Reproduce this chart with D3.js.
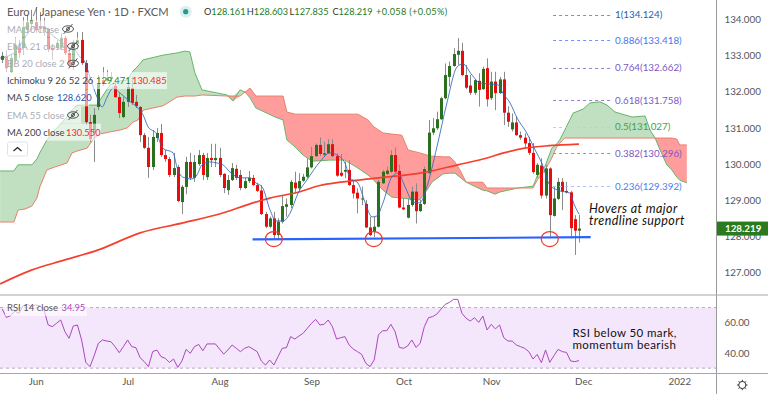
<!DOCTYPE html>
<html lang="en">

<head>
    <meta charset="UTF-8">
    <title>Euro / Japanese Yen</title>
    <style>
        body { margin: 0; background: #fff; }
        svg { display: block; }
        text { font-family: Lato, sans-serif; }
    </style>
</head>

<body>
    <svg width="768" height="394" id="svg"></svg>
    <script src="https://d3js.org/d3.v7.min.js"></script>
    <script>
        // daily bars
        const opens = [132.88,132.99,132.54,132.88,133.21,133.21,133.70,133.87,133.92,133.81,133.79,133.73,133.21,133.21,133.24,133.48,133.07,132.88,133.32,133.43,
            132.79,131.16,130.86,131.58,132.32,132.30,132.35,132.16,131.85,131.30,131.72,132.10,131.72,131.58,130.80,130.45,129.92,130.72,130.86,130.25,
            130.14,129.70,129.92,128.95,129.37,130.06,129.62,130.00,130.25,129.64,130.17,130.11,130.17,129.73,129.28,129.56,129.87,129.70,129.34,129.53,
            129.62,129.42,129.27,128.62,128.27,128.50,128.04,128.41,128.82,128.87,129.49,129.33,129.54,129.65,129.91,130.22,130.53,130.26,130.30,130.55,
            130.22,129.76,129.79,129.84,129.42,129.21,129.03,128.90,128.25,128.13,128.27,129.47,129.73,129.79,130.25,129.81,128.80,128.52,128.87,129.24,
            128.70,128.90,129.75,130.87,130.99,131.24,131.82,132.41,132.71,133.02,133.13,132.46,132.17,131.97,132.30,132.07,132.65,131.82,132.28,131.96,
            132.34,131.42,130.96,131.15,130.80,130.73,130.58,130.31,129.70,129.96,129.13,129.88,128.57,129.04,129.51,129.26,129.22,128.48,128.161]
        const highs = [133.10,133.15,133.01,133.51,133.43,134.06,134.12,134.26,134.34,134.20,134.04,133.76,133.32,133.43,133.62,133.54,133.15,133.43,133.65,133.65,
            132.88,131.36,131.55,132.46,132.68,132.60,132.54,132.32,131.96,131.85,132.32,132.41,131.91,131.60,130.86,130.75,130.94,131.00,131.11,130.39,
            130.20,130.31,129.98,129.42,130.20,130.31,130.25,130.39,130.31,130.31,130.56,130.56,130.45,129.75,129.70,130.03,129.98,129.84,129.62,129.81,
            129.70,129.48,129.42,128.68,128.55,128.68,128.50,129.15,129.05,129.56,129.79,129.75,129.73,130.16,130.48,130.57,130.74,130.62,130.69,130.69,
            130.30,130.28,130.07,130.11,129.56,129.33,129.38,129.01,128.55,128.55,129.56,129.84,129.93,130.39,130.46,129.98,129.05,129.05,129.38,129.47,
            129.01,129.93,131.22,131.27,131.45,131.86,132.78,132.83,133.20,133.48,133.35,132.74,132.46,132.34,132.51,132.69,132.92,132.55,132.55,132.41,
            132.55,131.60,131.40,131.31,130.90,130.85,130.75,130.58,130.03,130.16,129.98,129.91,129.38,129.62,129.61,129.51,129.26,128.59,128.603]
        const lows = [132.79,132.54,132.52,132.79,132.93,133.01,133.62,133.70,133.62,133.65,133.54,133.10,132.88,133.15,133.15,133.01,132.65,132.60,133.15,132.74,
            131.08,130.61,130.06,131.49,132.16,132.27,132.27,131.83,131.27,131.27,131.58,131.63,131.55,130.61,130.42,129.62,129.84,130.61,130.20,130.06,
            129.64,129.64,128.95,128.62,129.17,129.56,129.51,129.95,129.56,129.56,129.92,129.92,129.64,129.20,129.15,129.53,129.56,129.28,129.31,129.48,
            129.40,129.23,128.59,128.23,128.23,127.95,127.95,128.36,128.55,128.78,129.19,129.28,129.51,129.61,129.88,130.20,130.22,130.20,130.28,130.19,
            129.65,129.65,129.61,129.40,129.05,128.64,128.87,128.23,128.01,127.98,128.25,129.45,129.70,129.75,129.75,128.78,128.73,128.50,128.82,128.36,
            128.68,128.87,129.73,130.80,130.94,131.22,131.79,132.14,132.69,132.74,132.43,132.07,131.91,131.91,131.59,132.05,131.59,131.77,131.49,131.94,
            131.08,131.03,130.90,130.78,130.67,130.44,130.25,129.73,129.62,129.05,129.05,127.98,128.55,129.01,128.73,129.19,127.95,127.49,127.835]
        const closes = [132.99,132.65,132.93,133.29,133.07,133.79,133.92,133.98,133.70,133.76,133.73,133.18,133.15,133.35,133.48,133.07,132.74,133.35,133.43,132.79,
            131.16,130.69,131.36,132.24,132.24,132.38,132.41,131.85,131.41,131.72,132.13,131.69,131.60,130.80,130.45,129.92,130.75,130.86,130.25,130.14,
            129.70,129.89,128.98,129.37,130.06,129.62,130.06,130.25,129.70,130.17,130.11,130.17,129.70,129.34,129.56,129.89,129.62,129.34,129.53,129.62,
            129.42,129.26,128.62,128.27,128.50,128.04,128.41,128.84,128.89,129.51,129.33,129.53,129.65,129.91,130.22,130.53,130.28,130.30,130.55,130.22,
            129.68,129.68,129.84,129.42,129.19,129.05,129.05,128.25,128.04,128.27,129.51,129.79,129.82,130.25,129.79,128.80,128.75,128.87,129.24,128.70,
            128.90,129.86,130.87,130.99,131.24,131.82,132.46,132.71,133.04,133.13,132.46,132.11,131.97,132.32,132.05,132.63,131.79,132.28,131.96,132.34,
            131.42,131.17,131.15,130.80,130.73,130.57,130.31,129.78,129.98,129.13,129.88,128.59,129.05,129.51,129.24,129.22,128.23,128.16,128.219]

        // ichimoku spans, sampled where the edges bend
        const cloudBars = [-0.5,2.8,3.8,5.5,7.1,8.3,9,10.7,12.6,15.5,16.7,17.9,20.3,21.7,22.7,23.4,25.8,28.2,29.9,31.3,32.5,33.7,38.5,41.8,43.7,44.9,46.1,47.8,53.8,55.2,56.9,58.1,59.3,60.7,65.3,67.2,68.1,70.1,72,74.1,78.4,82,85.1,87.5,88.9,91.1,93.2,95.6,97.1,99.9,101.6,102.8,105.5,107.1,108.3,109.5,111,115,116,117.9,119.1,123.4,127,128,129.9,131.5,132.5,133.4,134.6,136.6,139,140.6,143,144.7,146.6,150.7,153.8,155,156.2,157.4,159,160.2,161.4,162.1,163.8]
        const spanA = [129.81,129.81,129.98,129.98,129.98,130.14,130.31,130.67,130.94,131.30,131.49,131.63,131.63,131.63,131.63,131.77,132.19,132.30,132.32,132.57,132.71,132.88,133.01,133.07,133.12,133.10,132.52,132.05,131.91,131.74,132.05,131.99,131.83,131.55,131.30,131.22,130.67,130.47,130.25,130.08,130.11,130.11,129.89,129.70,129.56,129.28,129.09,129.06,129.04,129.01,129.28,129.50,129.73,129.75,129.75,129.64,129.50,129.28,129.26,129.17,129.23,129.34,129.39,129.67,129.95,130.44,130.53,130.67,130.94,131.41,131.52,131.69,131.72,131.63,131.44,131.30,131.33,130.94,130.72,130.39,129.98,129.84,129.64,129.56,129.48]
        const spanB = [128.40,128.40,128.73,128.76,128.84,129.06,129.37,129.84,129.92,130.03,130.31,130.36,130.44,130.67,130.78,130.83,130.89,130.94,131.00,131.16,131.22,131.49,131.61,131.85,131.88,131.88,131.88,131.91,131.88,131.88,131.88,131.99,132.10,131.88,131.88,131.88,131.44,131.38,131.38,131.38,131.38,131.38,131.38,131.22,131.03,130.86,130.83,130.80,130.39,130.31,130.25,130.22,130.20,130.20,130.06,129.84,129.50,129.50,129.34,129.34,129.34,129.34,129.34,129.56,129.84,130.17,130.44,130.58,130.72,130.72,130.72,130.72,130.72,130.72,130.72,130.72,130.72,130.72,130.72,130.72,130.72,130.72,130.69,130.53,130.53]

        // moving averages, sampled along the curves
        const ma5Bars = [-0.5,1.9,3.1,4.3,6.2,8.3,10.2,11.9,14.5,15.7,17.4,18.6,19.8,21,22.7,23.9,25.1,26.5,28.2,30.1,32.2,33.7,34.9,37,38.4,40.9,41.8,43.2,45.4,46.6,47.8,49.7,51.4,52.8,54.5,56.9,59.3,60.7,62.2,64.1,65.5,67.2,68.9,70.8,72.9,76,78.4,80.1,82,83.2,85.1,86.8,88.5,89.7,91.1,93.2,94.7,96.4,98.3,99.9,101.6,104,106.4,108.8,110.2,112.4,114.3,116.7,118.6,119.8,121.5,123.2,125.5,127.5,129.1,131,132.9,135.8,136.9,138]
        const ma5 = [132.93,133.01,133.10,133.29,133.62,133.79,133.79,133.57,133.35,133.24,133.15,132.96,132.82,132.40,131.85,131.58,131.85,132.10,131.96,131.77,131.58,131.36,131.03,130.83,130.44,130.31,129.92,129.64,129.59,129.70,129.98,130.06,130.03,129.98,129.78,129.62,129.62,129.48,129.37,128.73,128.43,128.43,128.65,129.20,129.56,130.06,130.31,130.25,130.03,129.62,129.48,128.95,128.54,128.57,128.93,129.64,129.75,129.37,128.95,128.93,129.37,130.47,131.69,132.68,132.77,132.46,132.24,132.21,132.19,131.96,131.69,131.27,130.86,130.39,130.03,129.42,129.28,129.20,128.87,128.62]
        const ma200Bars = [-0.5,7,14,23,33,43,52,60,64,71,76,81,90,100,109,116,120,125,130,134,138]
        const ma200 = [126.69,127.07,127.32,127.63,128.10,128.37,128.62,128.93,129.06,129.23,129.41,129.50,129.62,129.75,129.98,130.17,130.31,130.44,130.50,130.53,130.55]

        const rsi = [69.0,63.5,64.6,67.7,66.2,71.2,72.1,70.6,71.7,71.2,68.4,58.5,57.4,59.6,61.8,54.1,49.7,57.8,58.5,48.6,
            33.8,31.0,38.2,46.4,48.6,47.9,47.5,44.2,40.2,44.2,48.6,44.2,43.5,36.9,34.3,31.0,40.9,42.0,37.6,36.5,
            33.8,36.0,30.5,34.7,42.4,39.8,44.2,45.7,41.5,46.0,46.0,46.0,42.6,39.3,42.0,45.3,43.1,40.9,43.1,44.2,
            42.6,40.9,34.7,32.1,35.4,32.1,37.6,43.1,43.5,50.8,49.2,51.2,53.0,56.3,59.6,62.2,58.5,58.9,61.8,57.4,
            49.2,50.1,50.8,45.3,42.6,40.9,39.1,33.2,31.0,35.4,51.9,54.7,54.7,58.9,54.1,43.7,43.1,44.6,48.6,43.7,
            46.4,57.4,63.3,64.0,65.7,69.0,72.1,73.4,75.4,75.4,66.2,62.9,61.1,63.3,60.2,64.4,55.2,58.9,55.9,58.5,
            50.1,47.9,47.9,45.3,44.2,43.1,40.9,36.0,39.1,33.6,42.0,33.8,38.2,42.4,40.9,40.4,34.7,34.3,34.95]

        const monthBars = [8, 30, 52, 74, 96, 117, 139, 162]
        const monthLabels = ["Jun", "Jul", "Aug", "Sep", "Oct", "Nov", "Dec", "2022"]
        const priceTicks = [127, 128, 129, 130, 131, 132, 133, 134]
        const rsiTicks = [40, 60]
        const lastPrice = 128.219

        const fibLevels = ["1", "0.886", "0.764", "0.618", "0.5", "0.382", "0.236"]
        const fibPrices = [134.124, 133.418, 132.662, 131.758, 131.027, 130.296, 129.392]
        const fibLineColors = ["#6f93dd", "#6d96f5", "#9a7fd0", "#9a7fd0", "#b5dcb6", "#a08bc8", "#a9c4fb"]
        const fibTextColors = ["#2a5caa", "#3f78f0", "#7e57c2", "#7e57c2", "#43a047", "#7e57c2", "#4a80f0"]
        const fibBars = [131.8, 145.8]

        const trendBars = [59.9, 140.8]
        const trendPrices = [127.92, 127.98]
        const circleBars = [65, 88.9, 131]
        const circlePrice = 127.93

        const upColor = "#2a701d"
        const downColor = "#e80c0c"

        const svg = d3.select("svg#svg")
        const xScale = d3.scaleLinear().domain([0, 138]).range([2.2, 579])
        const yScale = d3.scaleLinear().domain([127, 134]).range([272.7, 19.3])
        const rsiScale = d3.scaleLinear().domain([40, 60]).range([353, 322.7])

        svg.append("clipPath").attr("id", "chartClip").append("rect")
            .attr("width", 716).attr("height", 294)
        const chart = svg.append("g").attr("clip-path", "url(#chartClip)")

        // cloud
        const green = d3.area().x(d => xScale(d.bar)).y0(d => yScale(d.b)).y1(d => yScale(Math.max(d.a, d.b)))
        const red = d3.area().x(d => xScale(d.bar)).y0(d => yScale(d.b)).y1(d => yScale(Math.min(d.a, d.b)))
        const cloud = cloudBars.map((bar, i) => ({ bar, a: spanA[i], b: spanB[i] }))
        chart.append("path").attr("d", green(cloud)).attr("fill", "#c1e0c2")
        chart.append("path").attr("d", red(cloud)).attr("fill", "#ff9d9d")
        const edge = key => d3.line().x(d => xScale(d.bar)).y(d => yScale(d[key]))(cloud)
        chart.append("path").attr("d", edge("a")).attr("fill", "none").attr("stroke", "#66b56a").attr("stroke-width", 1)
        chart.append("path").attr("d", edge("b")).attr("fill", "none").attr("stroke", "#e8806a").attr("stroke-width", 1)

        // candles
        const candles = chart.append("g").selectAll("g").data(closes).join("g")
        candles.append("line")
            .attr("x1", (d, i) => Math.round(xScale(i)) + 0.5)
            .attr("x2", (d, i) => Math.round(xScale(i)) + 0.5)
            .attr("y1", (d, i) => yScale(highs[i]))
            .attr("y2", (d, i) => yScale(lows[i]))
            .attr("stroke", "#8a8a8a")
        candles.append("rect")
            .attr("x", (d, i) => Math.round(xScale(i)) - 1)
            .attr("width", 3)
            .attr("y", (d, i) => yScale(Math.max(opens[i], d)))
            .attr("height", (d, i) => Math.max(1, Math.abs(yScale(opens[i]) - yScale(d))))
            .attr("fill", (d, i) => d >= opens[i] ? upColor : downColor)

        // moving averages
        const maLine = (bars) => d3.line().x((d, i) => xScale(bars[i])).y(d => yScale(d)).curve(d3.curveMonotoneX)
        chart.append("path").attr("d", maLine(ma200Bars)(ma200)).attr("fill", "none").attr("stroke", "#f4402f").attr("stroke-width", 1.7)
        chart.append("path").attr("d", maLine(ma5Bars)(ma5)).attr("fill", "none").attr("stroke", "#2f66bd").attr("stroke-opacity", 0.85).attr("stroke-width", 1)

        // fib levels
        const fib = chart.append("g").selectAll("g").data(fibPrices).join("g")
        fib.append("line")
            .attr("x1", xScale(fibBars[0])).attr("x2", xScale(fibBars[1]))
            .attr("y1", d => Math.round(yScale(d)) + 0.5).attr("y2", d => Math.round(yScale(d)) + 0.5)
            .attr("stroke", (d, i) => fibLineColors[i]).attr("stroke-dasharray", "3 3")
        fib.append("text")
            .attr("x", 615).attr("y", d => yScale(d) + 3.5)
            .attr("font-size", 9.8).attr("fill", (d, i) => fibTextColors[i])
            .text((d, i) => `${fibLevels[i]}(${d3.format(".3f")(d)})`)

        // trendline and circles
        chart.append("line")
            .attr("x1", xScale(trendBars[0])).attr("x2", xScale(trendBars[1]))
            .attr("y1", yScale(trendPrices[0])).attr("y2", yScale(trendPrices[1]))
            .attr("stroke", "#2962ff").attr("stroke-width", 2.2)
        chart.selectAll("ellipse").data(circleBars).join("ellipse")
            .attr("cx", d => xScale(d)).attr("cy", yScale(circlePrice))
            .attr("rx", 8.5).attr("ry", 7.5)
            .attr("fill", "none").attr("stroke", "#f03a2e").attr("stroke-width", 1.2)

        const hover = chart.append("text").attr("font-size", 12.5).attr("font-style", "italic").attr("fill", "#111").attr("letter-spacing", 0.4)
        hover.append("tspan").attr("x", 589).attr("y", 212.5).text("Hovers at major")
        hover.append("tspan").attr("x", 589).attr("y", 224.5).text("trendline support")

        // rsi pane
        const rsiBand = svg.append("g")
        rsiBand.append("rect").attr("x", 0).attr("width", 716)
            .attr("y", rsiScale(70)).attr("height", rsiScale(30) - rsiScale(70)).attr("fill", "#f4e7fc")
        rsiBand.selectAll("line").data([70, 30]).join("line")
            .attr("x1", 0).attr("x2", 716)
            .attr("y1", d => rsiScale(d)).attr("y2", d => rsiScale(d))
            .attr("stroke", "#b9a9c2").attr("stroke-dasharray", "3 3")
        svg.append("path")
            .attr("d", d3.line().x((d, i) => xScale(i)).y(d => rsiScale(d))(rsi))
            .attr("fill", "none").attr("stroke", "#ab47bc").attr("stroke-width", 1)
        const rsiNote = svg.append("text").attr("font-size", 11.5).attr("fill", "#111").attr("letter-spacing", 0.4)
        rsiNote.append("tspan").attr("x", 572.5).attr("y", 336.5).text("RSI below 50 mark,")
        rsiNote.append("tspan").attr("x", 572.5).attr("y", 348.5).text("momentum bearish")

        // legend rows
        const rowGap = 17.2
        const legendRows = ["MA 50 close", "EMA 21 close", "BB 20 close 2", "Ichimoku 9 26 52 26", "MA 5 close", "EMA 55 close", "MA 200 close"]
        const legendHidden = [true, true, true, false, false, true, false]
        const legendWidths = [72, 76, 76, 162, 84, 76, 96]
        const legendEye = [68, 73, 73, null, null, 73, null]
        const legend = svg.append("g")
        legendRows.forEach((label, i) => {
            const cy = 29 + i * rowGap
            legend.append("rect").attr("x", 5).attr("y", cy - 8.5).attr("width", legendWidths[i]).attr("height", 17).attr("fill", "#fff").attr("fill-opacity", 0.6)
            legend.append("text").attr("x", 7).attr("y", cy + 3.5).attr("font-size", 9.5)
                .attr("fill", legendHidden[i] ? "#a9adb5" : "#444").text(label)
            if (legendEye[i]) {
                const eye = legend.append("g").attr("transform", `translate(${legendEye[i]},${cy})`).attr("fill", "none").attr("stroke", "#444").attr("stroke-width", 0.9)
                eye.append("ellipse").attr("rx", 5.5).attr("ry", 3.2)
                eye.append("circle").attr("r", 1.5)
                eye.append("line").attr("x1", -4.5).attr("y1", 5).attr("x2", 4.5).attr("y2", -5)
            }
        })
        const legendValues = [
            { x: 96, row: 3, text: "129.471", color: "#1f8a1f" },
            { x: 132, row: 3, text: "130.485", color: "#f02c2c" },
            { x: 57, row: 4, text: "128.620", color: "#1f55b0" },
            { x: 66, row: 6, text: "130.550", color: "#f02c2c" }
        ]
        legend.selectAll("text.value").data(legendValues).join("text").attr("class", "value")
            .attr("x", d => d.x).attr("y", d => 29 + d.row * rowGap + 3.5)
            .attr("font-size", 9.3).attr("fill", d => d.color).text(d => d.text)

        const toggle = svg.append("g")
        toggle.append("rect").attr("x", 7.5).attr("y", 142).attr("width", 20).attr("height", 14).attr("rx", 2).attr("fill", "#fff").attr("stroke", "#e0e3eb")
        toggle.append("path").attr("d", "M13.5 151 L17.5 147.5 L21.5 151").attr("fill", "none").attr("stroke", "#222").attr("stroke-width", 1.2)

        svg.append("rect").attr("x", 5).attr("y", 299).attr("width", 82).attr("height", 17).attr("fill", "#fff").attr("fill-opacity", 0.6)
        svg.append("text").attr("x", 7).attr("y", 310.8).attr("font-size", 9.5).attr("fill", "#555").text("RSI 14 close")
        svg.append("text").attr("x", 61.5).attr("y", 310.8).attr("font-size", 9.3).attr("fill", "#ab47bc").text("34.95")

        // header
        svg.append("text").attr("x", 7).attr("y", 15.5).attr("font-size", 11.2).attr("fill", "#5a5a5a").text("Euro / Japanese Yen · 1D · FXCM")
        svg.append("circle").attr("cx", 185.7).attr("cy", 11.7).attr("r", 6).attr("fill", "#d9f0ec")
        svg.append("circle").attr("cx", 185.7).attr("cy", 11.7).attr("r", 2.6).attr("fill", "#1f9e8f")
        const ohlcNames = ["O", "H", "L", "C"]
        const ohlcValues = [128.161, 128.603, 127.835, 128.219]
        ohlcNames.forEach((name, i) => {
            const t = svg.append("text").attr("x", 204 + i * 42.8).attr("y", 15).attr("font-size", 9.2)
            t.append("tspan").attr("fill", "#333").text(name)
            t.append("tspan").attr("fill", "#1f7a1f").text(d3.format(".3f")(ohlcValues[i]))
        })
        svg.append("text").attr("x", 376).attr("y", 15).attr("font-size", 9.2).attr("letter-spacing", 0.3).attr("fill", "#1f7a1f").text("+0.058 (+0.05%)")

        // frame
        svg.append("line").attr("x1", 716.5).attr("x2", 716.5).attr("y1", 0).attr("y2", 394).attr("stroke", "#9a9a9a")
        svg.selectAll("line.sep").data([295, 373.5]).join("line").attr("class", "sep")
            .attr("x1", 0).attr("x2", 768).attr("y1", d => d).attr("y2", d => d)
            .attr("stroke", "#a8a8a8").attr("stroke-width", 1.2)

        // axes
        const priceAxis = d3.axisRight(yScale).tickValues(priceTicks).tickFormat(d3.format(".3f")).tickSize(0).tickPadding(8)
        const rsiAxis = d3.axisRight(rsiScale).tickValues(rsiTicks).tickFormat(d3.format(".2f")).tickSize(0).tickPadding(8)
        const timeAxis = d3.axisBottom(xScale).tickValues(monthBars).tickFormat((d, i) => monthLabels[i]).tickSize(0).tickPadding(4)
        const styleAxis = g => {
            g.select(".domain").remove()
            g.selectAll("text").attr("font-size", 9.8).attr("fill", "#555").style("font-family", "Lato, sans-serif")
        }
        svg.append("g").attr("transform", "translate(716.5,0)").call(priceAxis).call(styleAxis)
        svg.append("g").attr("transform", "translate(716.5,0)").call(rsiAxis).call(styleAxis)
        svg.append("g").attr("transform", "translate(0,374)").call(timeAxis).call(styleAxis)

        // last price tag
        svg.append("rect").attr("x", 717).attr("y", yScale(lastPrice) - 7).attr("width", 51).attr("height", 14).attr("fill", "#2a7a1e")
        svg.append("text").attr("x", 725).attr("y", yScale(lastPrice) + 3.5).attr("font-size", 9.8).attr("font-weight", 700).attr("fill", "#fff").text(d3.format(".3f")(lastPrice))

        // settings icon
        const gear = svg.append("g").attr("transform", "translate(742.3,385)").attr("stroke", "#333").attr("fill", "none")
        gear.append("circle").attr("r", 3.6)
        d3.range(8).forEach(k => {
            const a = k * Math.PI / 4
            gear.append("line").attr("x1", 3.6 * Math.cos(a)).attr("y1", 3.6 * Math.sin(a)).attr("x2", 5.2 * Math.cos(a)).attr("y2", 5.2 * Math.sin(a))
        })
    </script>
</body>

</html>
